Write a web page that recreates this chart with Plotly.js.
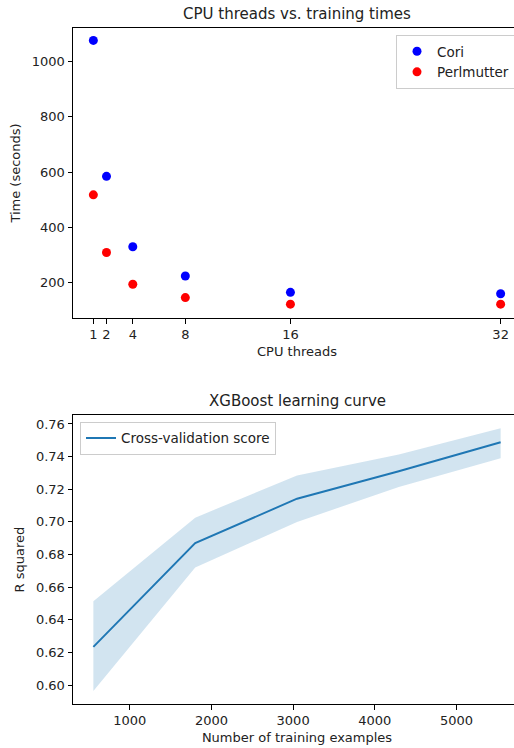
<!DOCTYPE html>
<html>
<head>
<meta charset="utf-8">
<script src="https://cdn.plot.ly/plotly-3.0.1.min.js"></script>
<style>
html,body{margin:0;padding:0;background:#fff;overflow:hidden;}
#chart{width:530px;height:748px;}
</style>
</head>
<body>
<div id="chart"></div>
<script>
// Top chart: CPU threads vs. training times
const threads = [1, 2, 4, 8, 16, 32];
const coriTimes = [1077, 585, 330, 224, 165, 160];
const perlmutterTimes = [518, 309, 194, 146, 122, 122];
const threadTicks = [1, 2, 4, 8, 16, 32];

// Bottom chart: XGBoost learning curve
const trainSizes = [554, 1801, 3048, 4294, 5541];
const cvMean = [0.6234, 0.6870, 0.7142, 0.7310, 0.7488];
const cvUpper = [0.6514, 0.7026, 0.7284, 0.7413, 0.7574];
const cvLower = [0.5963, 0.6720, 0.7000, 0.7213, 0.7390];
const sizeTicks = [1000, 2000, 3000, 4000, 5000];
const r2Ticks = [0.60, 0.62, 0.64, 0.66, 0.68, 0.70, 0.72, 0.74, 0.76];

const W = 530, H = 748;
const font = {family: 'DejaVu Sans, sans-serif', size: 13, color: '#222'};
const legendFont = {family: 'DejaVu Sans, sans-serif', size: 13.5, color: '#222'};

const traces = [
  {x: threads, y: coriTimes, type: 'scatter', mode: 'markers', name: 'Cori',
   marker: {color: '#0000ff', size: 9}, xaxis: 'x', yaxis: 'y', legend: 'legend'},
  {x: threads, y: perlmutterTimes, type: 'scatter', mode: 'markers', name: 'Perlmutter',
   marker: {color: '#ff0000', size: 9}, xaxis: 'x', yaxis: 'y', legend: 'legend'},
  {x: trainSizes, y: cvUpper, type: 'scatter', mode: 'lines', line: {width: 0, color: 'rgba(31,119,180,0)'},
   showlegend: false, xaxis: 'x2', yaxis: 'y2', hoverinfo: 'skip'},
  {x: trainSizes, y: cvLower, type: 'scatter', mode: 'lines', line: {width: 0, color: 'rgba(31,119,180,0)'},
   fill: 'tonexty', fillcolor: 'rgba(31,119,180,0.2)',
   showlegend: false, xaxis: 'x2', yaxis: 'y2', hoverinfo: 'skip'},
  {x: trainSizes, y: cvMean, type: 'scatter', mode: 'lines', name: 'Cross-validation score',
   line: {color: '#1f77b4', width: 1.9}, xaxis: 'x2', yaxis: 'y2', legend: 'legend2'}
];

const axisCommon = {
  showline: true, mirror: true, linecolor: '#000', linewidth: 1,
  ticks: 'outside', ticklen: 4.5, tickwidth: 1, tickcolor: '#000',
  showgrid: false, zeroline: false, tickfont: font
};

const layout = {
  width: W, height: H,
  margin: {l: 0, r: 0, t: 0, b: 0},
  paper_bgcolor: '#fff', plot_bgcolor: '#fff',
  font: font,
  showlegend: true,
  xaxis: Object.assign({}, axisCommon, {
    domain: [73 / W, 521 / W], anchor: 'y',
    range: [-0.55, 33.55], tickvals: threadTicks, ticktext: threadTicks.map(String),
    title: {text: 'CPU threads', font: font, standoff: 5}
  }),
  yaxis: Object.assign({}, axisCommon, {
    domain: [1 - 318 / H, 1 - 28 / H], anchor: 'x',
    range: [72, 1122], tickvals: [200, 400, 600, 800, 1000],
    title: {text: 'Time (seconds)', font: font, standoff: 8}
  }),
  xaxis2: Object.assign({}, axisCommon, {
    domain: [73 / W, 521 / W], anchor: 'y2',
    range: [304.6, 5790.4], tickvals: sizeTicks,
    title: {text: 'Number of training examples', font: font, standoff: 5}
  }),
  yaxis2: Object.assign({}, axisCommon, {
    domain: [1 - 704.3 / H, 1 - 415 / H], anchor: 'x2',
    range: [0.5882, 0.7655], tickvals: r2Ticks, ticktext: r2Ticks.map(v => v.toFixed(2)),
    title: {text: 'R squared', font: font, standoff: 8}
  }),
  legend: {
    x: 396 / W, y: 1 - 35 / H, xanchor: 'left', yanchor: 'top', traceorder: 'normal',
    bgcolor: 'rgba(255,255,255,0.8)', bordercolor: '#ccc', borderwidth: 1,
    font: legendFont, itemwidth: 30, tracegroupgap: 0
  },
  legend2: {
    x: 80 / W, y: 1 - 421.7 / H, xanchor: 'left', yanchor: 'top', traceorder: 'normal',
    bgcolor: 'rgba(255,255,255,0.8)', bordercolor: '#ccc', borderwidth: 1,
    font: legendFont, itemwidth: 30
  },
  annotations: [
    {text: 'CPU threads vs. training times', xref: 'paper', yref: 'paper',
     x: 297 / W, y: 1 - 14 / H, xanchor: 'center', yanchor: 'middle', showarrow: false,
     font: {family: 'DejaVu Sans, sans-serif', size: 15, color: '#222'}},
    {text: 'XGBoost learning curve', xref: 'paper', yref: 'paper',
     x: 297 / W, y: 1 - 401 / H, xanchor: 'center', yanchor: 'middle', showarrow: false,
     font: {family: 'DejaVu Sans, sans-serif', size: 15, color: '#222'}}
  ]
};

Plotly.newPlot('chart', traces, layout, {staticPlot: true, displayModeBar: false});
</script>
</body>
</html>
